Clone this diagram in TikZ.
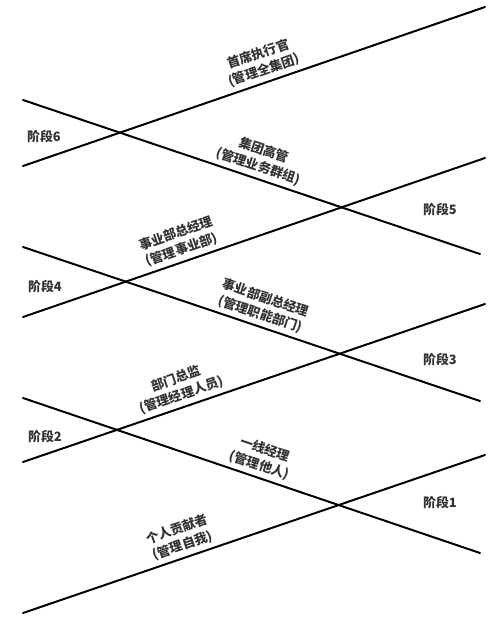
\documentclass[tikz,border=0pt]{standalone}
\usepackage{fontspec}
\newfontfamily\cjk{Noto Sans CJK SC}

\begin{document}
\begin{tikzpicture}[x=0.03cm, y=-0.03cm,
    ladder/.style={line width=1.7pt, black, line cap=round},
    stage/.style={font=\cjk\bfseries\fontsize{11}{13}\selectfont, text=black!80},
    role/.style={font=\cjk\bfseries\fontsize{11}{14.5}\selectfont, text=black!80,
        align=center, sloped, above=1.5pt, inner sep=2pt},
]
\useasboundingbox (0,0) rectangle (500,623);

% Ends of the rising lines
\coordinate (u1a) at (23,166); \coordinate (u1b) at (485,7);
\coordinate (u2a) at (23,317); \coordinate (u2b) at (485,158);
\coordinate (u3a) at (23,462); \coordinate (u3b) at (485,304);
\coordinate (u4a) at (23,613); \coordinate (u4b) at (485,455);

% Ends of the falling lines
\coordinate (d1a) at (23,100); \coordinate (d1b) at (480,254);
\coordinate (d2a) at (23,247); \coordinate (d2b) at (480,401);
\coordinate (d3a) at (23,398); \coordinate (d3b) at (480,553);

% Rising lines with roles
\draw[ladder] (u1a) -- node[role, pos=0.53] (ceo) {首席执行官\\(管理全集团)} (u1b);
\draw[ladder] (u2a) -- node[role, pos=0.352] (bgm) {事业部总经理\\(管理事业部)} (u2b);
\draw[ladder] (u3a) -- node[role, pos=0.352] (dir) {部门总监\\(管理经理人员)} (u3b);
\draw[ladder] (u4a) -- node[role, pos=0.354] (ic) {个人贡献者\\(管理自我)} (u4b);

% Falling lines with roles
\draw[ladder] (d1a) -- node[role, pos=0.507] (exe) {集团高管\\(管理业务群组)} (d1b);
\draw[ladder] (d2a) -- node[role, pos=0.511] (vgm) {事业部副总经理\\(管理职能部门)} (d2b);
\draw[ladder] (d3a) -- node[role, pos=0.509] (flm) {一线经理\\(管理他人)} (d3b);

% Stage labels
\node[stage] (s6) at (44,137) {阶段6};
\node[stage] (s5) at (440,210) {阶段5};
\node[stage] (s4) at (45,287) {阶段4};
\node[stage] (s3) at (440,360) {阶段3};
\node[stage] (s2) at (45,437) {阶段2};
\node[stage] (s1) at (440,503) {阶段1};
\end{tikzpicture}
\end{document}
